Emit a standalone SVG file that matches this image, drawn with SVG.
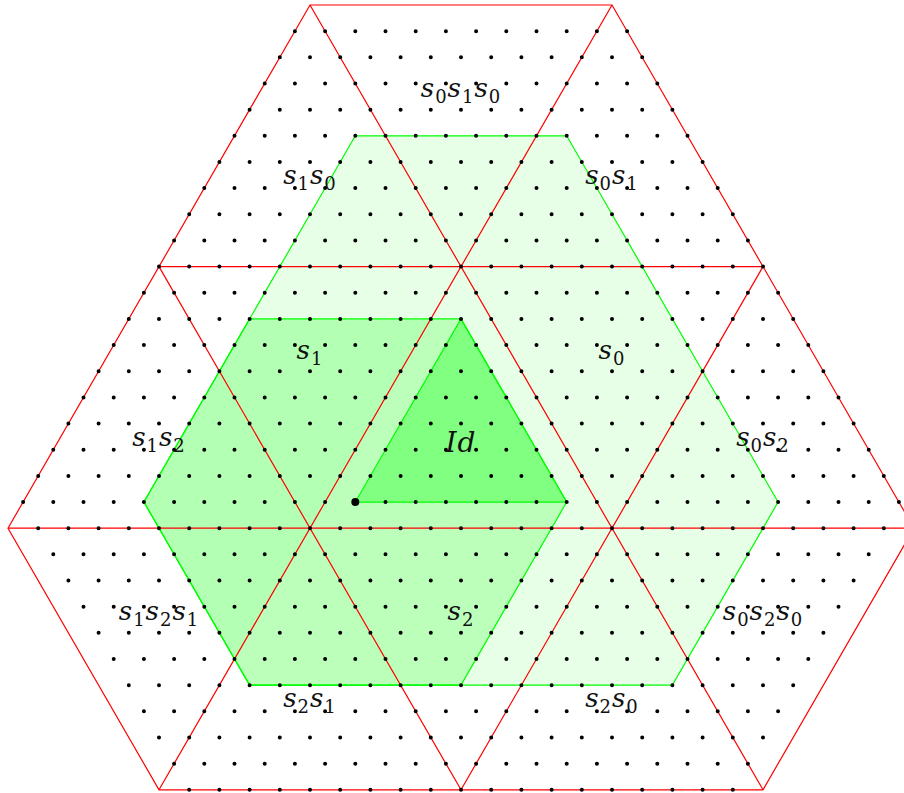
<svg xmlns="http://www.w3.org/2000/svg" width="904" height="793" viewBox="0 0 904 793">
<style>
.red{fill:none;stroke:#ff0000;stroke-width:1.2;stroke-linejoin:miter}
.gline{stroke:#00ff00;stroke-width:1.2;stroke-linejoin:miter}
.dotrow{fill:none;stroke:#000;stroke-width:4;stroke-linecap:round;stroke-dasharray:0 30.2}
.lbl{font-family:"DejaVu Serif","Liberation Serif",serif;font-size:26px;text-anchor:middle;fill:#111}
.v{font-style:italic;letter-spacing:1px}
.sub{font-size:18px;letter-spacing:1px}
</style>
<rect width="904" height="793" fill="#fff"/>
<g id="regions">
  <polygon id="hull-light" points="355.3,135.8 566.7,135.8 778.1,502.04 672.4,685.16 249.6,685.16 143.9,502.04" fill="#e6ffe6"/>
  <polygon id="hex-medium" points="143.9,502.04 249.6,318.92 461,318.92 566.7,502.04 461,685.16 249.6,685.16" fill="#bbffbb"/>
  <polygon id="hex-medium-left" points="143.9,502.04 249.6,318.92 430.8,318.92 234.5,659" fill="#b3ffb3"/>
  <polygon id="tri-id" points="461,318.92 355.3,502.04 566.7,502.04" fill="#80ff80"/>
</g>
<g id="connectors">
  <polygon class="red" points="310,5 612,5 914,528.2 763,789.8 159,789.8 8,528.2"/>
  <path class="red" d="M159,266.6 H763 M8,528.2 H914 M310,5 L763,789.8 M159,266.6 L461,789.8 M612,5 L159,789.8 M763,266.6 L461,789.8"/>
</g>
<g id="green-outlines" fill="none">
  <polygon class="gline" points="355.3,135.8 566.7,135.8 778.1,502.04 672.4,685.16 249.6,685.16 143.9,502.04"/>
  <polygon class="gline" points="143.9,502.04 249.6,318.92 461,318.92 566.7,502.04 461,685.16 249.6,685.16"/>
  <polygon class="gline" points="461,318.92 355.3,502.04 566.7,502.04"/>
</g>
<g id="dots">
  <path class="dotrow" d="M294.9,31.16 H628.1"/>
  <path class="dotrow" d="M279.8,57.32 H643.2"/>
  <path class="dotrow" d="M264.7,83.48 H658.3"/>
  <path class="dotrow" d="M249.6,109.64 H673.4"/>
  <path class="dotrow" d="M234.5,135.8 H688.5"/>
  <path class="dotrow" d="M219.4,161.96 H703.6"/>
  <path class="dotrow" d="M204.3,188.12 H718.7"/>
  <path class="dotrow" d="M189.2,214.28 H733.8"/>
  <path class="dotrow" d="M174.1,240.44 H748.9"/>
  <path class="dotrow" d="M159,266.6 H764"/>
  <path class="dotrow" d="M143.9,292.76 H779.1"/>
  <path class="dotrow" d="M128.8,318.92 H794.2"/>
  <path class="dotrow" d="M113.7,345.08 H809.3"/>
  <path class="dotrow" d="M98.6,371.24 H824.4"/>
  <path class="dotrow" d="M83.5,397.4 H839.5"/>
  <path class="dotrow" d="M68.4,423.56 H854.6"/>
  <path class="dotrow" d="M53.3,449.72 H869.7"/>
  <path class="dotrow" d="M38.2,475.88 H884.8"/>
  <path class="dotrow" d="M23.1,502.04 H899.9"/>
  <path class="dotrow" d="M38.2,528.2 H884.8"/>
  <path class="dotrow" d="M53.3,554.36 H869.7"/>
  <path class="dotrow" d="M68.4,580.52 H854.6"/>
  <path class="dotrow" d="M83.5,606.68 H839.5"/>
  <path class="dotrow" d="M98.6,632.84 H824.4"/>
  <path class="dotrow" d="M113.7,659 H809.3"/>
  <path class="dotrow" d="M128.8,685.16 H794.2"/>
  <path class="dotrow" d="M143.9,711.32 H779.1"/>
  <path class="dotrow" d="M159,737.48 H764"/>
  <path class="dotrow" d="M174.1,763.64 H748.9"/>
  <path class="dotrow" d="M189.2,789.8 H733.8"/>
  <circle id="base-point" cx="355.3" cy="502.04" r="4" fill="#000"/>
</g>
<g id="label-s0s1s0"><text class="lbl" x="461" y="96.5"><tspan class="v">s</tspan><tspan class="sub" dy="6">0</tspan><tspan class="v" dy="-6">s</tspan><tspan class="sub" dy="6">1</tspan><tspan class="v" dy="-6">s</tspan><tspan class="sub" dy="6">0</tspan></text></g>
<g id="label-s1s0"><text class="lbl" x="310" y="184"><tspan class="v">s</tspan><tspan class="sub" dy="6">1</tspan><tspan class="v" dy="-6">s</tspan><tspan class="sub" dy="6">0</tspan></text></g>
<g id="label-s0s1"><text class="lbl" x="612" y="184"><tspan class="v">s</tspan><tspan class="sub" dy="6">0</tspan><tspan class="v" dy="-6">s</tspan><tspan class="sub" dy="6">1</tspan></text></g>
<g id="label-s1"><text class="lbl" x="310" y="359"><tspan class="v">s</tspan><tspan class="sub" dy="6">1</tspan></text></g>
<g id="label-s0"><text class="lbl" x="612" y="359"><tspan class="v">s</tspan><tspan class="sub" dy="6">0</tspan></text></g>
<g id="label-s1s2"><text class="lbl" x="159" y="446"><tspan class="v">s</tspan><tspan class="sub" dy="6">1</tspan><tspan class="v" dy="-6">s</tspan><tspan class="sub" dy="6">2</tspan></text></g>
<g id="label-Id"><text class="lbl" x="461" y="452" style="font-style:italic;font-size:28px;letter-spacing:1px">Id</text></g>
<g id="label-s0s2"><text class="lbl" x="763" y="446"><tspan class="v">s</tspan><tspan class="sub" dy="6">0</tspan><tspan class="v" dy="-6">s</tspan><tspan class="sub" dy="6">2</tspan></text></g>
<g id="label-s1s2s1"><text class="lbl" x="159" y="620"><tspan class="v">s</tspan><tspan class="sub" dy="6">1</tspan><tspan class="v" dy="-6">s</tspan><tspan class="sub" dy="6">2</tspan><tspan class="v" dy="-6">s</tspan><tspan class="sub" dy="6">1</tspan></text></g>
<g id="label-s2"><text class="lbl" x="461" y="620"><tspan class="v">s</tspan><tspan class="sub" dy="6">2</tspan></text></g>
<g id="label-s0s2s0"><text class="lbl" x="763" y="620"><tspan class="v">s</tspan><tspan class="sub" dy="6">0</tspan><tspan class="v" dy="-6">s</tspan><tspan class="sub" dy="6">2</tspan><tspan class="v" dy="-6">s</tspan><tspan class="sub" dy="6">0</tspan></text></g>
<g id="label-s2s1"><text class="lbl" x="310" y="707"><tspan class="v">s</tspan><tspan class="sub" dy="6">2</tspan><tspan class="v" dy="-6">s</tspan><tspan class="sub" dy="6">1</tspan></text></g>
<g id="label-s2s0"><text class="lbl" x="612" y="707"><tspan class="v">s</tspan><tspan class="sub" dy="6">2</tspan><tspan class="v" dy="-6">s</tspan><tspan class="sub" dy="6">0</tspan></text></g>
</svg>
